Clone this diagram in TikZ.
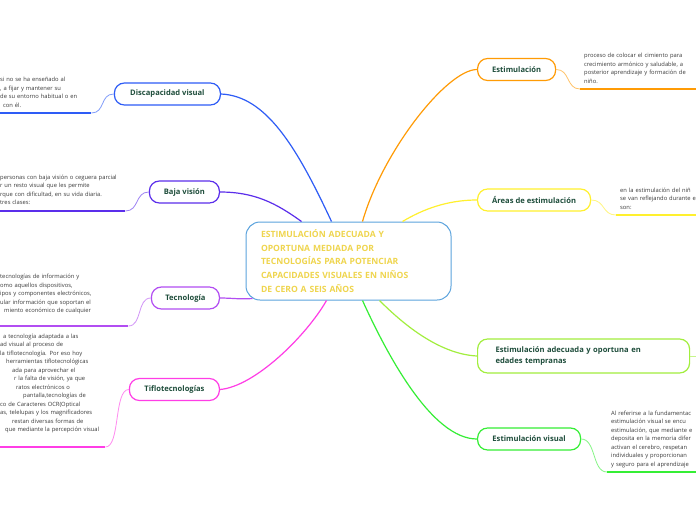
\documentclass[tikz,border=0pt]{standalone}
\usepackage{fontspec}
\setmainfont{Open Sans}
\usepackage{tikz}
\usetikzlibrary{positioning, calc}
\definecolor{hubline}{HTML}{5BA3DD}
\definecolor{hubtext}{HTML}{EFD54E}
\definecolor{labelgreen}{HTML}{1E4D3B}
\definecolor{notegray}{HTML}{3A3A3A}
\definecolor{discblue}{HTML}{2E5CF6}
\definecolor{bajaviolet}{HTML}{5B2EEB}
\definecolor{tecnpurple}{HTML}{B24DF2}
\definecolor{tiflopink}{HTML}{FF3DE6}
\definecolor{estimorange}{HTML}{FF9B05}
\definecolor{areasyellow}{HTML}{FFF02E}
\definecolor{edadlime}{HTML}{A2EE3E}
\definecolor{visgreen}{HTML}{35EE35}
\tikzset{
    hubbox/.style={draw=hubline, line width=1pt, rounded corners=14pt, fill=white, minimum width=205pt, minimum height=78pt, text width=175pt, inner xsep=15pt, align=left, text=hubtext, font=\fontsize{8.6}{13.7}\selectfont\bfseries},
    topic/.style={draw=#1, line width=1.2pt, rounded corners=10pt, fill=white, minimum height=22pt, inner xsep=6pt, text=labelgreen, font=\fontsize{7.6}{9}\selectfont\bfseries},
    note/.style={text width=#1, align=left, inner xsep=0pt, text=notegray, font=\fontsize{5.8}{8.5}\selectfont, execute at end node=\strut},
    link/.style={draw=#1, line width=1.2pt},
    twig/.style={draw=#1!60, line width=0.8pt},
    noteline/.style={draw=#1, line width=1.5pt}
}

\begin{document}
\begin{tikzpicture}[x=1pt, y=-1pt]
\useasboundingbox (0,0) rectangle (696,520);
\fill[white] (0,0) rectangle (696,520);
\clip (0,0) rectangle (696,520);

% central topic
\node[hubbox] (hub) at (348.5,261) {ESTIMULACIÓN ADECUADA Y\\ OPORTUNA MEDIADA POR\\ TECNOLOGÍAS PARA POTENCIAR\\ CAPACIDADES VISUALES EN NIÑOS\\ DE CERO A SEIS AÑOS};

% left branches
\node[topic=discblue, minimum width=106pt, anchor=east] (disc) at (221,94) {Discapacidad visual};
\node[topic=bajaviolet, minimum width=70pt, anchor=east] (baja) at (220,192) {Baja visión};
\node[topic=tecnpurple, minimum width=68pt, anchor=east] (tecn) at (220,298) {Tecnología};
\node[topic=tiflopink, minimum width=90pt, anchor=east] (tiflo) at (220,389.5) {Tiflotecnologías};

% right branches
\node[topic=estimorange, minimum width=78pt, anchor=west] (estim) at (477,69.5) {Estimulación};
\node[topic=areasyellow, minimum width=113pt, anchor=west] (areas) at (477,200) {Áreas de estimulación};
\node[topic=edadlime, minimum height=34pt, text width=176pt, inner xsep=18pt, align=left, font=\fontsize{7.6}{11.5}\selectfont\bfseries, anchor=west] (edades) at (477,356) {Estimulación adecuada y oportuna en\\ edades tempranas};
\node[topic=visgreen, minimum width=103pt, anchor=west] (visual) at (477,439) {Estimulación visual};
\coordinate (edadend) at (700,356);

% notes
\node[note=91pt, inner ysep=2.8pt, anchor=south west] (disctxt) at (0,113) {si no se ha enseñado al\\ , a fijar y mantener su\\ de su entorno habitual o en\\ \hspace*{3pt}con él.};
\node[note=125pt, inner ysep=3.7pt, anchor=south west] (bajatxt) at (0,211) {personas con baja visión o ceguera parcial\\ r un resto visual que les permite\\ rque con dificultad, en su vida diaria.\\ tres clases:};
\node[note=128pt, inner ysep=10.7pt, anchor=south west] (tecntxt) at (0,326) {tecnologías de información y\\ omo aquellos dispositivos,\\ ipos y componentes electrónicos,\\ ular información que soportan el\\ \hspace*{4pt}miento económico de cualquier};
\node[note=105pt, inner ysep=12.7pt, anchor=south west] (tiflotxt) at (0,447) {\hspace*{3pt}a tecnología adaptada a las\\ ad visual al proceso de\\ la tiflotecnología. Por eso hoy\\ \hspace*{6pt}herramientas tiflotecnológicas\\ \hspace*{12pt}ada para aprovechar el\\ \hspace*{14pt}r la falta de visión, ya que\\ \hspace*{16pt}ratos electrónicos o\\ \hspace*{23pt}pantalla,tecnologías de\\ co de Caracteres OCR(Optical\\ as, telelupas y los magnificadores\\ \hspace*{12pt}restan diversas formas de\\ \hspace*{5pt}que mediante la percepción visual};
\node[note=200pt, inner xsep=4pt, inner ysep=2.8pt, anchor=south west] (estimtxt) at (580,89) {proceso de colocar el cimiento para\\ crecimiento armónico y saludable, a\\ posterior aprendizaje y formación de\\ niño.};
\node[note=200pt, inner xsep=4pt, inner ysep=2.8pt, anchor=south west] (areastxt) at (616,215) {en la estimulación del niñ\\ se van reflejando durante e\\ son:};
\node[note=200pt, inner xsep=4pt, inner ysep=2.8pt, anchor=south west] (visualtxt) at (607,472) {Al referirse a la fundamentac\\ estimulación visual se encu\\ estimulación, que mediante e\\ deposita en la memoria difer\\ activan el cerebro, respetan\\ individuales y proporcionan\\ y seguro para el aprendizaje};

% hub to branches
\draw[link=discblue] (disc.east) .. controls +(45,2) and +(-35,-75) .. ([xshift=86pt]hub.north west);
\draw[link=bajaviolet] (baja.east) .. controls +(35,0) and +(-25,-18) .. ([xshift=56pt]hub.north west);
\draw[link=tecnpurple] (tecn.east) .. controls +(12,0) and +(-12,1) .. ([xshift=7pt,yshift=2pt]hub.south west);
\draw[link=tiflopink] (tiflo.east) .. controls +(35,-3) and +(-20,35) .. ([xshift=81pt]hub.south west);
\draw[link=estimorange] (estim.west) .. controls +(-30,0) and +(20,-70) .. ([xshift=117pt]hub.north west);
\draw[link=areasyellow] (areas.west) .. controls +(-30,0) and +(20,-12) .. ([xshift=157pt]hub.north west);
\draw[link=edadlime] (edades.west) .. controls +(-40,-2) and +(20,20) .. ([xshift=134pt]hub.south west);
\draw[link=visgreen] (visual.west) .. controls +(-45,0) and +(25,55) .. ([xshift=117pt]hub.south west);

% branches to notes
\draw[twig=discblue] (disc.west) .. controls +(-14,0) and +(14,0) .. (disctxt.south east);
\draw[twig=bajaviolet] (baja.west) .. controls +(-14,0) and +(14,0) .. (bajatxt.south east);
\draw[twig=tecnpurple] (tecn.west) .. controls +(-14,0) and +(14,0) .. (tecntxt.south east);
\draw[twig=tiflopink] (tiflo.west) .. controls +(-15,0) and +(15,0) .. (tiflotxt.south east);
\draw[twig=estimorange] (estim.east) .. controls +(14,0) and +(-14,0) .. (estimtxt.south west);
\draw[twig=areasyellow] (areas.east) .. controls +(14,0) and +(-14,0) .. (areastxt.south west);
\draw[twig=visgreen] (visual.east) .. controls +(15,0) and +(-15,0) .. (visualtxt.south west);
\draw[twig=edadlime] (edades.east) -- (edadend);

% underlines
\draw[noteline=discblue] (disctxt.south west) -- (disctxt.south east);
\draw[noteline=bajaviolet] (bajatxt.south west) -- (bajatxt.south east);
\draw[noteline=tecnpurple] (tecntxt.south west) -- (tecntxt.south east);
\draw[noteline=tiflopink] (tiflotxt.south west) -- (tiflotxt.south east);
\draw[noteline=estimorange] (estimtxt.south west) -- (estimtxt.south east);
\draw[noteline=areasyellow] (areastxt.south west) -- (areastxt.south east);
\draw[noteline=visgreen] (visualtxt.south west) -- (visualtxt.south east);
\end{tikzpicture}
\end{document}
